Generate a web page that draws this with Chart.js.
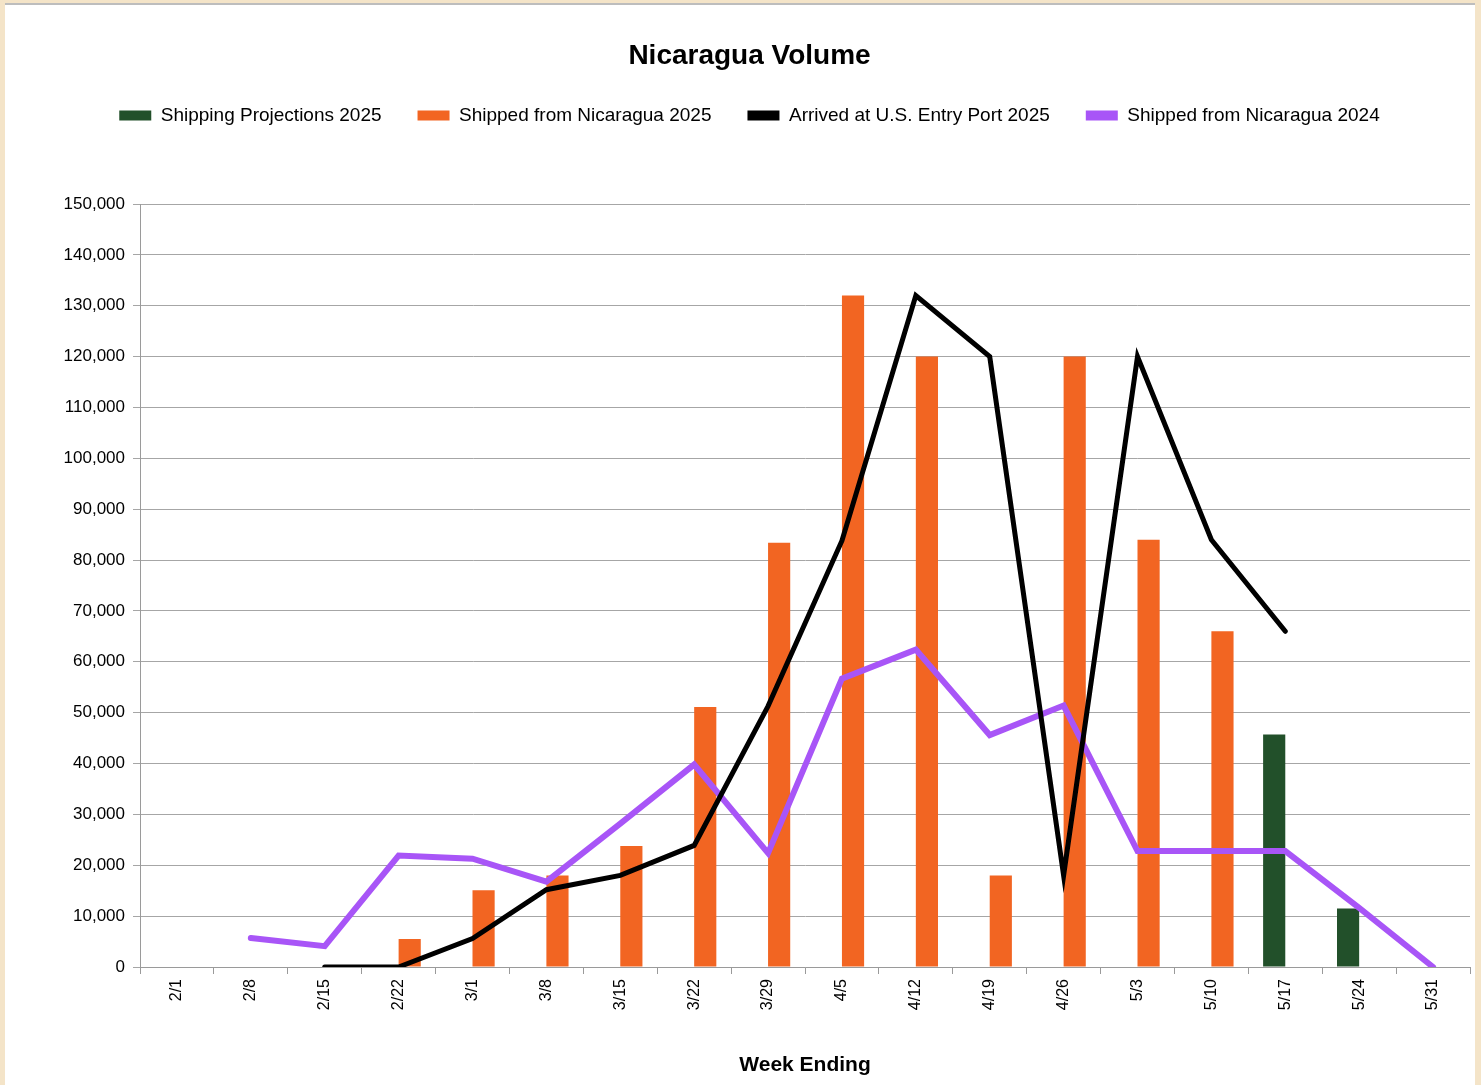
<!DOCTYPE html>
<html>
<head>
<meta charset="utf-8">
<script src="https://cdn.jsdelivr.net/npm/chart.js@4.4.1/dist/chart.umd.min.js"></script>
<style>
  body { margin: 0; background: #f4e4c8; }
  #panel { position: absolute; left: 5px; top: 3px; width: 1470px; height: 1082px; background: #fff; border-top: 2px solid #bdbdbd; }
  canvas { display: block; }
</style>
</head>
<body>
<div id="panel"><canvas id="chart" width="1470" height="1080"></canvas></div>
<script>
const weeks = ['2/1','2/8','2/15','2/22','3/1','3/8','3/15','3/22','3/29','4/5','4/12','4/19','4/26','5/3','5/10','5/17','5/24','5/31'];

const projections2025 = [null,null,null,null,null,null,null,null,null,null,null,null,null,null,null,45700,11500,null];
const shipped2025 = [null,null,null,5500,15100,18000,23800,51100,83400,132000,120000,18000,120000,84000,66000,null,null,null];
const arrived2025 = [null,null,0,0,5600,15200,18000,23900,51300,83800,132000,120000,18000,120000,84000,66000,null,null];
const shipped2024 = [null,5700,4100,21900,21300,16800,28200,39800,22400,56700,62400,45600,51400,22800,22800,22800,11600,0];

Chart.defaults.font.family = '"Liberation Sans", Arial, sans-serif';
Chart.defaults.color = '#000';

// legend height fixed so the plot starts where the original does
const fixLegend = {
  id: 'fixLegend',
  beforeLayout(chart) {
    const lg = chart.legend;
    if (lg && !lg._patched) {
      const orig = lg.fit;
      lg.fit = function () { orig.call(this); this.height = 134; };
      lg._patched = true;
    }
  }
};

new Chart(document.getElementById('chart'), {
  data: {
    labels: weeks,
    datasets: [
      { type: 'bar', label: 'Shipping Projections 2025', data: projections2025, backgroundColor: '#22502a', order: 3, barPercentage: 1, categoryPercentage: 0.6 },
      { type: 'bar', label: 'Shipped from Nicaragua 2025', data: shipped2025, backgroundColor: '#f26522', order: 3, barPercentage: 1, categoryPercentage: 0.6 },
      { type: 'line', label: 'Arrived at U.S. Entry Port 2025', data: arrived2025, borderColor: '#000', backgroundColor: '#000', borderWidth: 5, pointRadius: 0, tension: 0, borderCapStyle: 'round', order: 1 },
      { type: 'line', label: 'Shipped from Nicaragua 2024', data: shipped2024, borderColor: '#a855f7', backgroundColor: '#a855f7', borderWidth: 6, pointRadius: 0, tension: 0, borderCapStyle: 'round', order: 2 }
    ]
  },
  options: {
    responsive: false,
    animation: false,
    layout: { padding: { left: 24, right: 5, top: 0, bottom: 0 } },
    plugins: {
      title: { display: true, text: 'Nicaragua Volume', font: { size: 28, weight: 'bold', lineHeight: 1 }, padding: { top: 37, bottom: 0 } },
      legend: {
        labels: {
          font: { size: 19 },
          boxWidth: 32,
          boxHeight: 10,
          padding: 36,
          generateLabels(chart) {
            return chart.data.datasets.map((d, i) => ({
              text: d.label, fillStyle: d.backgroundColor, strokeStyle: d.backgroundColor,
              lineWidth: 0, datasetIndex: i, hidden: false
            }));
          }
        }
      },
      tooltip: { enabled: false }
    },
    scales: {
      x: {
        offset: true,
        grid: { offset: true, drawOnChartArea: false, drawTicks: true, tickLength: 7, color: '#9a9a9a' },
        border: { color: '#9a9a9a', width: 1 },
        ticks: { font: { size: 16 }, minRotation: 90, maxRotation: 90, padding: 5 },
        title: { display: true, text: 'Week Ending', font: { size: 21, weight: 'bold' }, padding: { top: 7, bottom: 7 } },
        afterFit(s) { s.height = 118; }
      },
      y: {
        min: 0, max: 150000,
        grid: { color: '#a6a6a6', tickLength: 7 },
        border: { color: '#9a9a9a', width: 1 },
        ticks: { stepSize: 10000, font: { size: 17 }, padding: 8, callback: v => v.toLocaleString('en-US') },
        afterFit(s) { s.width = 111; }
      }
    }
  },
  plugins: [fixLegend]
});
</script>
</body>
</html>
